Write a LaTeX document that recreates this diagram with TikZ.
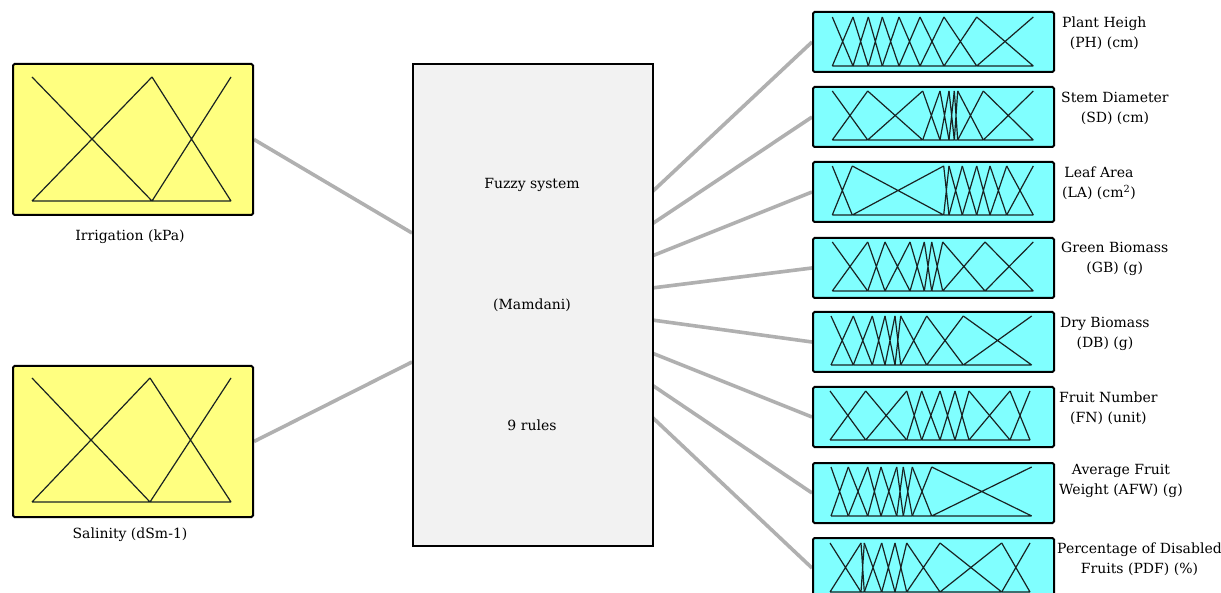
\documentclass[tikz,border=0pt]{standalone}
\usepackage{fontspec}
\setmainfont{DejaVu Serif}
\pgfdeclarelayer{background}
\pgfsetlayers{background,main}
\begin{document}
\begin{tikzpicture}[x=1pt,y=-1pt,
  lab/.style={font=\fontsize{14}{20}\selectfont, text=black, inner sep=0pt},
  inbox/.style={draw=black, line width=2pt, fill=inyellow, rounded corners=1.5pt, minimum width=240pt, minimum height=151pt, anchor=north west, inner sep=0pt},
  outbox/.style={draw=black, line width=2pt, fill=outcyan, rounded corners=1.5pt, minimum width=241pt, minimum height=60pt, anchor=north west, inner sep=0pt},
  fzbox/.style={draw=black, line width=1.6pt, fill=fzgray, minimum width=240pt, minimum height=482pt, anchor=north west, inner sep=0pt},
  mf/.style={draw=mfline, line width=1.2pt},
  link/.style={draw=linkgray, line width=3.6pt}]
\definecolor{inyellow}{RGB}{255,255,128}
\definecolor{outcyan}{RGB}{128,255,255}
\definecolor{fzgray}{RGB}{242,242,242}
\definecolor{mfline}{RGB}{25,35,35}
\definecolor{linkgray}{RGB}{176,176,176}
\newcommand\mfrow[4]{%
  \foreach \x [remember=\x as \px (initially #3)] in {#4} {
    \draw[mf] (\px,#1) -- (\x,#2) (\px,#2) -- (\x,#1) (\px,#2) -- (\x,#2);
  }%
}
\useasboundingbox (0,0) rectangle (1221,593);
\clip (0,0) rectangle (1221,593);

% boxes
\node[inbox] (in1) at (12,63) {};
\node[inbox] (in2) at (12,365) {};
\node[fzbox] (fz) at (412,63) {};
\foreach \i/\t in {1/11,2/86,3/161,4/237,5/311,6/386,7/462,8/537}
  \node[outbox] (o\i) at (812,\t) {};

% connector end points on the fuzzy system box
\coordinate (fzi1) at (412,233);
\coordinate (fzi2) at (412,362);
\coordinate (fzo1) at (652,192);
\coordinate (fzo2) at (652,224);
\coordinate (fzo3) at (652,256);
\coordinate (fzo4) at (652,288);
\coordinate (fzo5) at (652,320);
\coordinate (fzo6) at (652,353);
\coordinate (fzo7) at (652,385);
\coordinate (fzo8) at (652,417);

\begin{pgfonlayer}{background}
\fill[white] (0,0) rectangle (1221,593);
\draw[link] (in1.east) -- (fzi1);
\draw[link] (in2.east) -- (fzi2);
\foreach \i in {1,...,8} \draw[link] (fzo\i) -- (o\i.west);
\end{pgfonlayer}

% input membership functions
\mfrow{77}{201}{32}{152,231}
\mfrow{378}{502}{32}{150,231}

% output membership functions
\mfrow{17}{66}{832.3}{853,868.3,882.3,899,920,944,976.7,1033.3}
\mfrow{91}{140}{832.3}{867.7,922.7,940,949,954.3,957.7,983.3,1033.3}
\mfrow{166}{215}{832.3}{852.3,943.7,949,962.3,976.7,990,1006.7,1033.3}
\mfrow{242}{291}{832.3}{867.7,885,910,924.3,931.7,942.7,985,1033.3}
\mfrow{316}{365}{831}{853.3,872.3,885,895,900.7,926.7,963.3,1031.7}
\mfrow{391}{440}{830}{865.7,906.7,921.7,940,955,969,1010,1030}
\mfrow{467}{516}{831}{848.3,867.7,881,896.7,903.3,912.3,931.7,1031.7}
\mfrow{543}{592}{830}{861,864.3,881.7,895,906.7,940,1001.7,1030}

% labels
\node[lab] (lin1) at (130,237) {Irrigation (kPa)};
\node[lab] (lin2) at (130,535) {Salinity (dSm-1)};
\node[lab] (fzt1) at (532,185) {Fuzzy system};
\node[lab] (fzt2) at (532,305) {(Mamdani)};
\node[lab] (fzt3) at (532,425) {9 rules};

\node[lab, anchor=west, align=center] (lo1) at (1062,33) {Plant Heigh\\(PH) (cm)};
\node[lab, anchor=west, align=center] (lo2) at (1061,108) {Stem Diameter\\(SD) (cm)};
\node[lab, anchor=west, align=center] (lo3) at (1062,183) {Leaf Area\\(LA) (cm\textsuperscript{2})};
\node[lab, anchor=west, align=center] (lo4) at (1061,259) {Green Biomass\\(GB) (g)};
\node[lab, anchor=west, align=center] (lo5) at (1060,334) {Dry Biomass\\(DB) (g)};
\node[lab, anchor=west, align=center] (lo6) at (1059,408) {Fruit Number\\(FN) (unit)};
\node[lab, anchor=west, align=center] (lo7) at (1059,481) {Average Fruit\\Weight (AFW) (g)};
\node[lab, anchor=west, align=center] (lo8) at (1057,559) {Percentage of Disabled\\Fruits (PDF) (\%)};
\end{tikzpicture}
\end{document}
